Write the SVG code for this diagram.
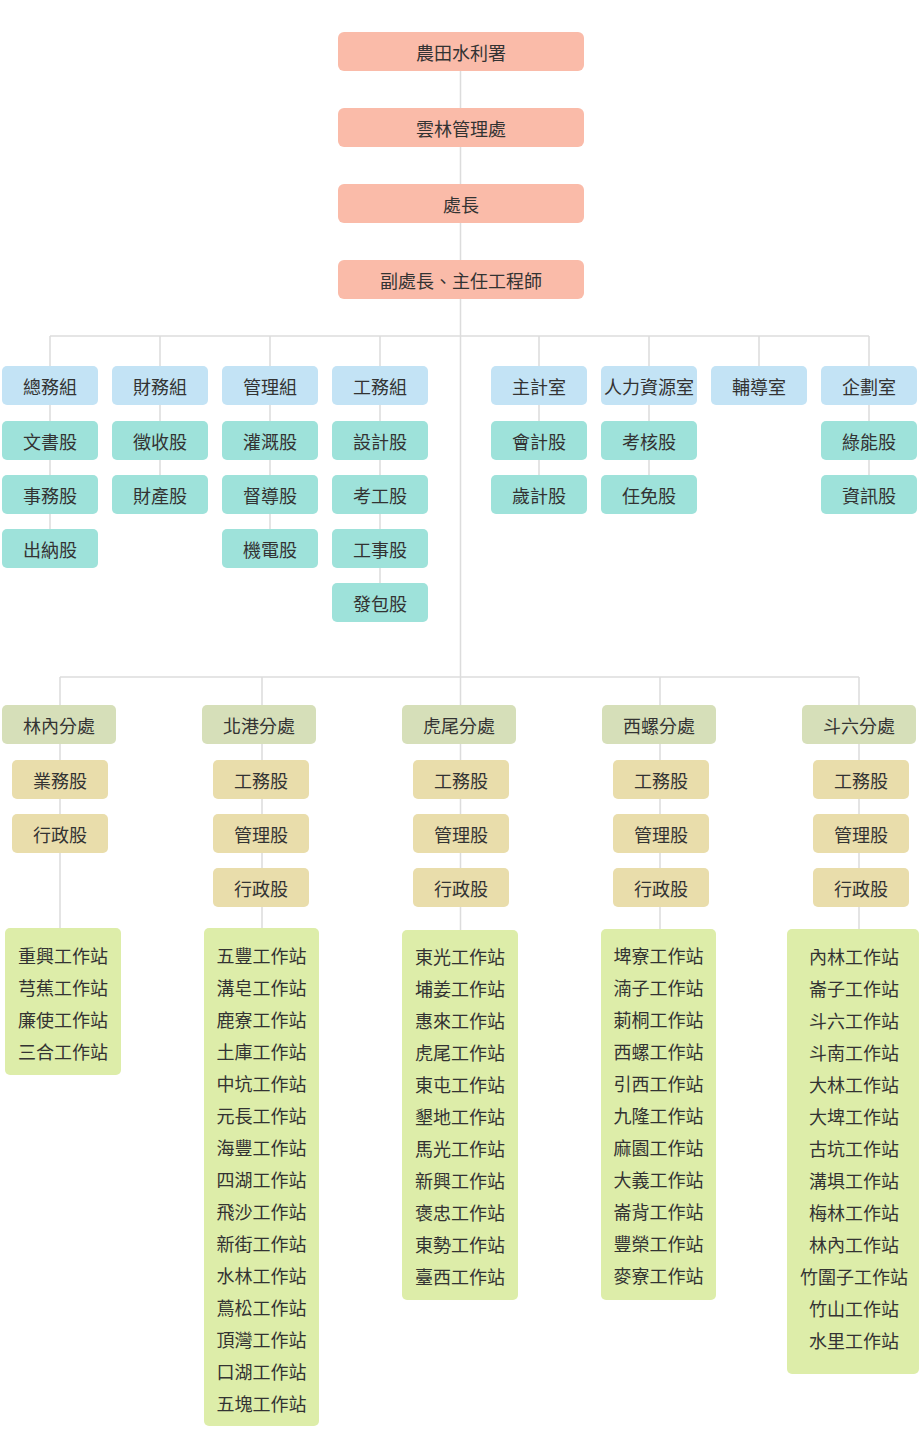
<svg xmlns="http://www.w3.org/2000/svg" width="920" height="1438" viewBox="0 0 920 1438">
<style>
text{font-family:"Noto Sans CJK TC","Noto Sans CJK SC",sans-serif;font-size:18px;fill:#333;text-anchor:middle;dominant-baseline:central}
.top{fill:#FABBA9}
.grp{fill:#C3E3F5}
.sec{fill:#9EE2DA}
.br{fill:#D6DFB9}
.sub{fill:#E9DDAB}
.st{fill:#DDEDA9}
.ln{stroke:#DCDCDC;stroke-width:1.5;fill:none}
</style>
<rect width="920" height="1438" fill="#fff"/>
<g id="connectors" class="ln">
<path d="M460.5 70V930"/>
<path d="M50 336H869"/>
<path d="M50 336V529M160 336V475M270 336V529M380 336V583M539 336V475M649 336V475M759 336V366M869 336V475"/>
<path d="M60 677H859"/>
<path d="M60 677V928M262 677V928M660 677V929M859 677V929"/>
</g>
<g id="n-top1"><rect class="top" x="338" y="32" width="246" height="39" rx="6"/><text x="461" y="51.5">農田水利署</text></g>
<g id="n-top2"><rect class="top" x="338" y="108" width="246" height="39" rx="6"/><text x="461" y="127.5">雲林管理處</text></g>
<g id="n-top3"><rect class="top" x="338" y="184" width="246" height="39" rx="6"/><text x="461" y="203.5">處長</text></g>
<g id="n-top4"><rect class="top" x="338" y="260" width="246" height="39" rx="6"/><text x="461" y="279.5">副處長、主任工程師</text></g>

<g id="n-zongwu"><rect class="grp" x="2" y="366" width="96" height="39" rx="5"/><text x="50" y="385.5">總務組</text></g>
<g id="n-caiwu"><rect class="grp" x="112" y="366" width="96" height="39" rx="5"/><text x="160" y="385.5">財務組</text></g>
<g id="n-guanli"><rect class="grp" x="222" y="366" width="96" height="39" rx="5"/><text x="270" y="385.5">管理組</text></g>
<g id="n-gongwu"><rect class="grp" x="332" y="366" width="96" height="39" rx="5"/><text x="380" y="385.5">工務組</text></g>
<g id="n-zhuji"><rect class="grp" x="491" y="366" width="96" height="39" rx="5"/><text x="539" y="385.5">主計室</text></g>
<g id="n-renli"><rect class="grp" x="601" y="366" width="96" height="39" rx="5"/><text x="649" y="385.5">人力資源室</text></g>
<g id="n-fudao"><rect class="grp" x="711" y="366" width="96" height="39" rx="5"/><text x="759" y="385.5">輔導室</text></g>
<g id="n-qihua"><rect class="grp" x="821" y="366" width="96" height="39" rx="5"/><text x="869" y="385.5">企劃室</text></g>

<g id="n-wenshu"><rect class="sec" x="2" y="421" width="96" height="39" rx="5"/><text x="50" y="440.5">文書股</text></g>
<g id="n-shiwu"><rect class="sec" x="2" y="475" width="96" height="39" rx="5"/><text x="50" y="494.5">事務股</text></g>
<g id="n-chuna"><rect class="sec" x="2" y="529" width="96" height="39" rx="5"/><text x="50" y="548.5">出納股</text></g>
<g id="n-zhengshou"><rect class="sec" x="112" y="421" width="96" height="39" rx="5"/><text x="160" y="440.5">徵收股</text></g>
<g id="n-caichan"><rect class="sec" x="112" y="475" width="96" height="39" rx="5"/><text x="160" y="494.5">財產股</text></g>
<g id="n-guangai"><rect class="sec" x="222" y="421" width="96" height="39" rx="5"/><text x="270" y="440.5">灌溉股</text></g>
<g id="n-dudao"><rect class="sec" x="222" y="475" width="96" height="39" rx="5"/><text x="270" y="494.5">督導股</text></g>
<g id="n-jidian"><rect class="sec" x="222" y="529" width="96" height="39" rx="5"/><text x="270" y="548.5">機電股</text></g>
<g id="n-sheji"><rect class="sec" x="332" y="421" width="96" height="39" rx="5"/><text x="380" y="440.5">設計股</text></g>
<g id="n-kaogong"><rect class="sec" x="332" y="475" width="96" height="39" rx="5"/><text x="380" y="494.5">考工股</text></g>
<g id="n-gongshi"><rect class="sec" x="332" y="529" width="96" height="39" rx="5"/><text x="380" y="548.5">工事股</text></g>
<g id="n-fabao"><rect class="sec" x="332" y="583" width="96" height="39" rx="5"/><text x="380" y="602.5">發包股</text></g>
<g id="n-kuaiji"><rect class="sec" x="491" y="421" width="96" height="39" rx="5"/><text x="539" y="440.5">會計股</text></g>
<g id="n-suiji"><rect class="sec" x="491" y="475" width="96" height="39" rx="5"/><text x="539" y="494.5">歲計股</text></g>
<g id="n-kaohe"><rect class="sec" x="601" y="421" width="96" height="39" rx="5"/><text x="649" y="440.5">考核股</text></g>
<g id="n-renmian"><rect class="sec" x="601" y="475" width="96" height="39" rx="5"/><text x="649" y="494.5">任免股</text></g>
<g id="n-lvneng"><rect class="sec" x="821" y="421" width="96" height="39" rx="5"/><text x="869" y="440.5">綠能股</text></g>
<g id="n-zixun"><rect class="sec" x="821" y="475" width="96" height="39" rx="5"/><text x="869" y="494.5">資訊股</text></g>

<g id="n-linnei"><rect class="br" x="2" y="705" width="114" height="39" rx="5"/><text x="59" y="724.5">林內分處</text></g>
<g id="n-beigang"><rect class="br" x="202" y="705" width="114" height="39" rx="5"/><text x="259" y="724.5">北港分處</text></g>
<g id="n-huwei"><rect class="br" x="402" y="705" width="114" height="39" rx="5"/><text x="459" y="724.5">虎尾分處</text></g>
<g id="n-xiluo"><rect class="br" x="602" y="705" width="114" height="39" rx="5"/><text x="659" y="724.5">西螺分處</text></g>
<g id="n-douliu"><rect class="br" x="802" y="705" width="114" height="39" rx="5"/><text x="859" y="724.5">斗六分處</text></g>

<g id="n-linnei-yewu"><rect class="sub" x="12" y="760" width="96" height="39" rx="5"/><text x="60" y="779.5">業務股</text></g>
<g id="n-linnei-xingzheng"><rect class="sub" x="12" y="814" width="96" height="39" rx="5"/><text x="60" y="833.5">行政股</text></g>
<g id="n-beigang-gongwu"><rect class="sub" x="213" y="760" width="96" height="39" rx="5"/><text x="261" y="779.5">工務股</text></g>
<g id="n-beigang-guanli"><rect class="sub" x="213" y="814" width="96" height="39" rx="5"/><text x="261" y="833.5">管理股</text></g>
<g id="n-beigang-xingzheng"><rect class="sub" x="213" y="868" width="96" height="39" rx="5"/><text x="261" y="887.5">行政股</text></g>
<g id="n-huwei-gongwu"><rect class="sub" x="413" y="760" width="96" height="39" rx="5"/><text x="461" y="779.5">工務股</text></g>
<g id="n-huwei-guanli"><rect class="sub" x="413" y="814" width="96" height="39" rx="5"/><text x="461" y="833.5">管理股</text></g>
<g id="n-huwei-xingzheng"><rect class="sub" x="413" y="868" width="96" height="39" rx="5"/><text x="461" y="887.5">行政股</text></g>
<g id="n-xiluo-gongwu"><rect class="sub" x="613" y="760" width="96" height="39" rx="5"/><text x="661" y="779.5">工務股</text></g>
<g id="n-xiluo-guanli"><rect class="sub" x="613" y="814" width="96" height="39" rx="5"/><text x="661" y="833.5">管理股</text></g>
<g id="n-xiluo-xingzheng"><rect class="sub" x="613" y="868" width="96" height="39" rx="5"/><text x="661" y="887.5">行政股</text></g>
<g id="n-douliu-gongwu"><rect class="sub" x="813" y="760" width="96" height="39" rx="5"/><text x="861" y="779.5">工務股</text></g>
<g id="n-douliu-guanli"><rect class="sub" x="813" y="814" width="96" height="39" rx="5"/><text x="861" y="833.5">管理股</text></g>
<g id="n-douliu-xingzheng"><rect class="sub" x="813" y="868" width="96" height="39" rx="5"/><text x="861" y="887.5">行政股</text></g>

<g id="n-linnei-stations"><rect class="st" x="5" y="928" width="116" height="147" rx="5"/>
<text x="63" y="955">重興工作站</text><text x="63" y="987">芎蕉工作站</text><text x="63" y="1019">廉使工作站</text><text x="63" y="1051">三合工作站</text></g>

<g id="n-beigang-stations"><rect class="st" x="204" y="928" width="115" height="498" rx="5"/>
<text x="261.5" y="955">五豐工作站</text><text x="261.5" y="987">溝皂工作站</text><text x="261.5" y="1019">鹿寮工作站</text><text x="261.5" y="1051">土庫工作站</text><text x="261.5" y="1083">中坑工作站</text><text x="261.5" y="1115">元長工作站</text><text x="261.5" y="1147">海豐工作站</text><text x="261.5" y="1179">四湖工作站</text><text x="261.5" y="1211">飛沙工作站</text><text x="261.5" y="1243">新街工作站</text><text x="261.5" y="1275">水林工作站</text><text x="261.5" y="1307">蔦松工作站</text><text x="261.5" y="1339">頂灣工作站</text><text x="261.5" y="1371">口湖工作站</text><text x="261.5" y="1403">五塊工作站</text></g>

<g id="n-huwei-stations"><rect class="st" x="402" y="930" width="116" height="370" rx="5"/>
<text x="460" y="956">東光工作站</text><text x="460" y="988">埔姜工作站</text><text x="460" y="1020">惠來工作站</text><text x="460" y="1052">虎尾工作站</text><text x="460" y="1084">東屯工作站</text><text x="460" y="1116">墾地工作站</text><text x="460" y="1148">馬光工作站</text><text x="460" y="1180">新興工作站</text><text x="460" y="1212">褒忠工作站</text><text x="460" y="1244">東勢工作站</text><text x="460" y="1276">臺西工作站</text></g>

<g id="n-xiluo-stations"><rect class="st" x="601" y="929" width="115" height="371" rx="5"/>
<text x="658.5" y="955">埤寮工作站</text><text x="658.5" y="987">湳子工作站</text><text x="658.5" y="1019">莿桐工作站</text><text x="658.5" y="1051">西螺工作站</text><text x="658.5" y="1083">引西工作站</text><text x="658.5" y="1115">九隆工作站</text><text x="658.5" y="1147">麻園工作站</text><text x="658.5" y="1179">大義工作站</text><text x="658.5" y="1211">崙背工作站</text><text x="658.5" y="1243">豐榮工作站</text><text x="658.5" y="1275">麥寮工作站</text></g>

<g id="n-douliu-stations"><rect class="st" x="787" y="929" width="132" height="445" rx="5"/>
<text x="854" y="956">內林工作站</text><text x="854" y="988">崙子工作站</text><text x="854" y="1020">斗六工作站</text><text x="854" y="1052">斗南工作站</text><text x="854" y="1084">大林工作站</text><text x="854" y="1116">大埤工作站</text><text x="854" y="1148">古坑工作站</text><text x="854" y="1180">溝埧工作站</text><text x="854" y="1212">梅林工作站</text><text x="854" y="1244">林內工作站</text><text x="854" y="1276">竹圍子工作站</text><text x="854" y="1308">竹山工作站</text><text x="854" y="1340">水里工作站</text></g>
</svg>
